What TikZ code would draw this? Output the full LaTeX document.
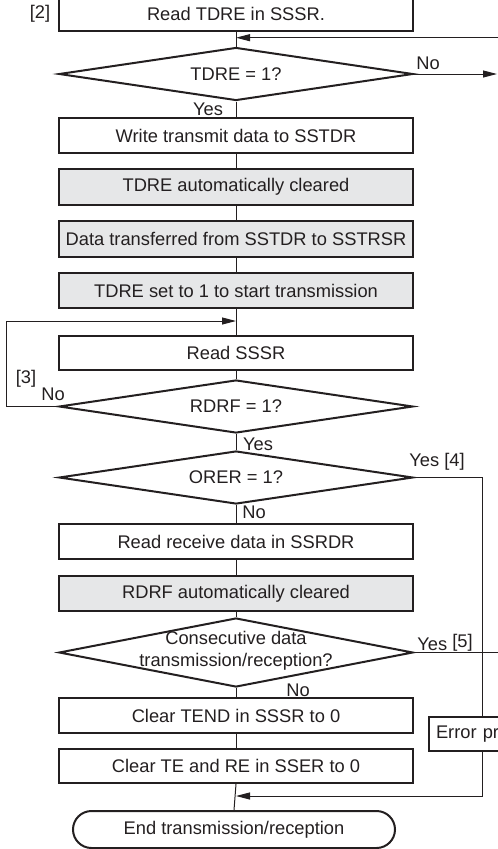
\documentclass[tikz,border=0pt]{standalone}
\usepackage{fontspec}
\setmainfont{Liberation Sans}
\usetikzlibrary{positioning, arrows.meta, shapes.geometric}
\definecolor{ink}{HTML}{231F20}
\definecolor{fog}{HTML}{E6E7E8}

\tikzset{
  flowbox/.style={draw=ink, line width=2pt, minimum width=354pt, minimum height=35pt,
    inner sep=0pt, text=ink, font=\fontsize{18.3}{22}\selectfont},
  autobox/.style={flowbox, fill=fog},
  query/.style={draw=ink, line width=2pt, diamond, minimum width=354pt,
    minimum height=53pt, inner sep=0pt},
  tag/.style={text=ink, inner sep=0pt, font=\fontsize{18.3}{22}\selectfont},
  link/.style={draw=ink, line width=1pt},
  flow/.style={link, -{Triangle[length=14pt, width=7pt]}},
}

\begin{document}
\begin{tikzpicture}[x=1pt, y=-1pt]
    \useasboundingbox (0,0) rectangle (498,849);
    \clip (0,0) rectangle (498,849);
    % Senden: TDRE pruefen
    \node[flowbox, minimum height=34pt] (rdtdre) at (236,14) {Read TDRE in SSSR.};
    \node[tag] (lbltwo) at (40,14) {[2]};
    \node[query] (qtdre) at (236,74) {};
    \node[tag] (qtdretxt) at (qtdre) {TDRE = 1?};
    \coordinate (inR) at (498,37.7);
    \coordinate (outTdre) at (497,74);
    \draw[link] (rdtdre.south) -- (qtdre.north);
    \draw[flow] (inR) -- (inR -| rdtdre.south);
    \draw[flow] (qtdre.east) -- (outTdre);
    \node[tag] (notdre) at (428,63) {No};
    \node[tag] (yestdre) at (208,109) {Yes};
    % Sendedaten schreiben, automatische Schritte grau
    \node[flowbox] (wrdata) at (236,135.5) {Write transmit data to SSTDR};
    \node[autobox, minimum height=36pt] (tdreclr) at (236,187) {TDRE automatically cleared};
    \node[autobox, minimum height=36pt] (xfer) at (236,239) {Data transferred from SSTDR to SSTRSR};
    \node[autobox] (tdreset) at (236,290.5) {TDRE set to 1 to start transmission};
    \draw[link] (qtdre.south) -- (wrdata.north);
    \draw[link] (wrdata.south) -- (tdreclr.north);
    \draw[link] (tdreclr.south) -- (xfer.north);
    \draw[link] (xfer.south) -- (tdreset.north);
    % Empfang: RDRF abfragen, Schleife links
    \node[flowbox, minimum height=34pt] (rdsssr) at (236,353) {Read SSSR};
    \node[query] (qrdrf) at (236,406.5) {};
    \node[tag] (qrdrftxt) at (qrdrf) {RDRF = 1?};
    \coordinate (loopin) at (236,321);
    \draw[link] (tdreset.south) -- (rdsssr.north);
    \draw[link] (rdsssr.south) -- (qrdrf.north);
    \draw[flow] (qrdrf.west) -- ++(-52,0) |- (loopin);
    \node[tag] (lblthree) at (26,379) {[3]};
    \node[tag] (nordrf) at (53,394) {No};
    \node[tag] (yesrdrf) at (258,444) {Yes};
    % Ueberlauf pruefen
    \node[query] (qorer) at (236,477.5) {};
    \node[tag] (qorertxt) at (qorer) {ORER = 1?};
    \draw[link] (qrdrf.south) -- (qorer.north);
    \node[tag] (yesorer) at (437,462) {Yes [4]};
    \node[tag] (noorer) at (254,512) {No};
    % Empfangsdaten lesen
    \node[flowbox] (rddata) at (236,541.5) {Read receive data in SSRDR};
    \node[autobox] (rdrfclr) at (236,593.5) {RDRF automatically cleared};
    \draw[link] (qorer.south) -- (rddata.north);
    \draw[link] (rddata.south) -- (rdrfclr.north);
    % weiter senden/empfangen?
    \node[query, minimum height=69pt] (qcons) at (236,652.5) {};
    \node[tag, align=center] (qconstxt) at (236,651) {Consecutive data\\transmission/reception?};
    \coordinate (outR) at (498,652.5);
    \draw[link] (rdrfclr.south) -- (qcons.north);
    \draw[link] (qcons.east) -- (outR);
    \node[tag] (yescons) at (445,643) {Yes \raisebox{2.5pt}{[5]}};
    \node[tag] (nocons) at (298,690) {No};
    % Abschluss
    \node[flowbox] (clrtend) at (236,715.5) {Clear TEND in SSSR to 0};
    \node[flowbox, minimum height=34pt] (clrte) at (236,766) {Clear TE and RE in SSER to 0};
    \node[flowbox, minimum width=322pt, minimum height=37pt, rounded corners=18.5pt] (finish) at (234,829.5) {End transmission/reception};
    \draw[link] (qcons.south) -- (clrtend.north);
    \draw[link] (clrtend.south) -- (clrte.north);
    \draw[link] (clrte.south) -- (finish.north);
    % Fehlerbehandlung rechts, Rueckweg zum Ende
    \node[flowbox, minimum width=106pt, minimum height=34pt, text width=92pt, align=left,
      inner xsep=7pt] (errproc) at (482,734) {Error pr};
    \coordinate (errback) at (236,796);
    \draw[link] (qorer.east) -| (errproc.north);
    \draw[flow] (errproc.south) |- (errback);
\end{tikzpicture}
\end{document}
